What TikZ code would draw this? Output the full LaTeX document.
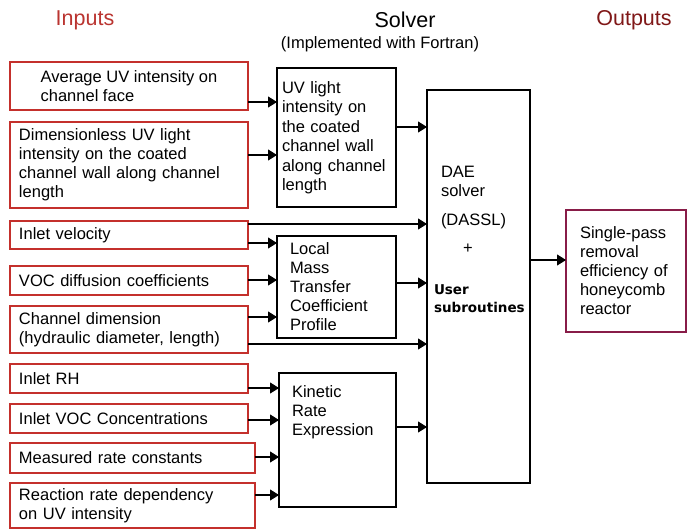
\documentclass[tikz,border=0pt]{standalone}
\usepackage{fontspec}
\setmainfont{Liberation Sans}
\newfontfamily\boldsans{DejaVu Sans}
\usepackage{tikz}
\usetikzlibrary{arrows.meta}
\usetikzlibrary{positioning}
\definecolor{inred}{RGB}{196,48,44}
\definecolor{headred}{RGB}{186,52,48}
\definecolor{outred}{RGB}{128,24,24}
\definecolor{outbox}{RGB}{136,28,72}

\begin{document}
\begin{tikzpicture}[x=1pt,y=-1pt,
  every node/.style={font=\fontsize{16.5}{19}\selectfont, outer sep=0pt},
  inbox/.style={draw=inred, line width=2pt, anchor=north west, minimum width=238pt, text width=220pt, inner xsep=9pt, inner ysep=0pt, align=left},
  solbox/.style={draw, line width=2pt, anchor=north west, align=left, inner ysep=0pt},
  arr/.style={-{Triangle[length=9pt,width=11pt]}, line width=1.1pt},
  head/.style={font=\fontsize{21.5}{24}\selectfont}]
\useasboundingbox (0,0) rectangle (688,530);
% headings
\node[head, text=headred] (hin) at (85,20) {Inputs};
\node[head] (hsol) at (405,20) {Solver};
\node (hfor) at (380,44) {(Implemented with Fortran)};
\node[head, text=outred] (hout) at (634,20) {Outputs};
% inputs
\node[inbox, minimum height=48pt, text width={}] (in1) at (10,62) {Average UV intensity on\\channel face};
\node[inbox, minimum height=86pt] (in2) at (10,122) {Dimensionless UV light\\intensity on the coated\\channel wall along channel\\length};
\node[inbox, minimum height=28pt] (in3) at (10,221) {Inlet velocity};
\node[inbox, minimum height=29pt] (in4) at (10,266) {VOC diffusion coefficients};
\node[inbox, minimum height=47pt] (in5) at (10,306) {Channel dimension\\(hydraulic diameter, length)};
\node[inbox, minimum height=29pt] (in6) at (10,364) {Inlet RH};
\node[inbox, minimum height=29pt] (in7) at (10,404) {Inlet VOC Concentrations};
\node[inbox, minimum height=30pt, minimum width=245pt, text width=227pt] (in8) at (10,443) {Measured rate constants};
\node[inbox, minimum height=45pt, minimum width=245pt, text width=227pt] (in9) at (10,483) {Reaction rate dependency\\on UV intensity};
% solver
\node[solbox, minimum width=119pt, minimum height=139pt, text width=109pt, inner xsep=5pt, font=\fontsize{16.5}{19.5}\selectfont] (uv) at (277,68) {UV light\\intensity on\\the coated\\channel wall\\along channel\\length};
\node[solbox, minimum width=119pt, minimum height=102pt, text width=93pt, inner xsep=13pt] (mt) at (277,236) {Local\\Mass\\Transfer\\Coefficient\\Profile};
\node[solbox, minimum width=117pt, minimum height=134pt] (kin) at (279,373) {};
\node[anchor=north west, align=left, inner sep=0pt] (kintxt) at ([xshift=13pt,yshift=-13pt]kin.north west) {Kinetic\\Rate\\Expression};
\node[solbox, minimum width=103pt, minimum height=393pt] (dae) at (427,90) {};
\node[anchor=north west, align=left, inner sep=0pt] (daetxt) at ([xshift=14pt,yshift=-76pt]dae.north west) {DAE\\solver};
\node[anchor=west, inner sep=0pt] (dassl) at (daetxt.west |- 0,221) {(DASSL)};
\node[inner sep=0pt] (plus) at (468,249) {+};
\node[anchor=north west, align=left, inner sep=0pt, font=\boldsans\bfseries\fontsize{13.5}{18}\selectfont] (usr) at ([xshift=7pt,yshift=-195pt]dae.north west) {User\\subroutines};
% output
\node[draw=outbox, line width=2pt, anchor=north west, minimum width=120pt, minimum height=122pt, text width=92pt, inner xsep=14pt, align=left] (out) at (566,210) {Single-pass\\removal\\efficiency of\\honeycomb\\reactor};
% connectors
\draw[arr] (in1.east |- 0,102) -- (uv.west |- 0,102);
\draw[arr] (in2.east |- 0,155) -- (uv.west |- 0,155);
\draw[arr] (uv.east |- 0,127) -- (dae.west |- 0,127);
\draw[arr] (in3.east |- 0,224) -- (dae.west |- 0,224);
\draw[arr] (in3.east |- 0,243) -- (mt.west |- 0,243);
\draw[arr] (in4.east |- 0,280) -- (mt.west |- 0,280);
\draw[arr] (in5.east |- 0,317) -- (mt.west |- 0,317);
\draw[arr] (in5.east |- 0,344) -- (dae.west |- 0,344);
\draw[arr] (mt.east |- 0,283) -- (dae.west |- 0,283);
\draw[arr] (in6.east |- 0,388) -- (kin.west |- 0,388);
\draw[arr] (in7.east |- 0,420) -- (kin.west |- 0,420);
\draw[arr] (in8.east |- 0,457) -- (kin.west |- 0,457);
\draw[arr] (in9.east |- 0,495) -- (kin.west |- 0,495);
\draw[arr] (kin.east |- 0,427) -- (dae.west |- 0,427);
\draw[arr] (dae.east |- 0,260) -- (out.west |- 0,260);
\end{tikzpicture}
\end{document}
